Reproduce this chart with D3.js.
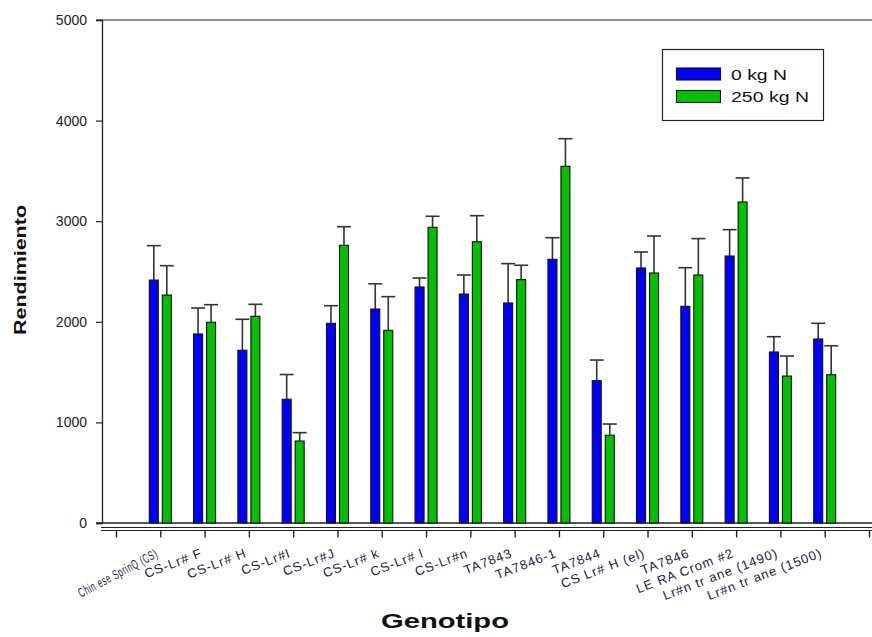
<!DOCTYPE html>
<html>
<head>
<meta charset="utf-8">
<script src="https://cdn.jsdelivr.net/npm/d3@7"></script>
<style>
  body { margin: 0; background: #fff; }
  svg { display: block; font-family: "Liberation Sans", Arial, sans-serif; }
</style>
</head>
<body>
<div id="chart"></div>
<script>
// Genotypes along the x axis
var genotypes = ["Chin ese SprinQ (CS)", "CS-Lr# F", "CS-Lr# H", "CS-Lr#I", "CS-Lr#J", "CS-Lr# k",
    "CS-Lr# l", "CS-Lr#n", "TA7843", "TA7846-1", "TA7844", "CS Lr# H (el)", "TA7846",
    "LE RA Crom #2", "Lr#n tr ane (1490)", "Lr#n tr ane (1500)"];

// Series: mean yield and error (upper bar only)
var series = ["0 kg N", "250 kg N"];
var yield0 = [2415, 1879, 1717, 1230, 1985, 2127, 2346, 2276, 2187, 2621, 1415, 2535, 2154, 2654, 1700, 1829];
var err0 = [342, 258, 308, 246, 175, 251, 89, 189, 391, 215, 205, 159, 384, 262, 152, 156];
var yield250 = [2266, 1995, 2055, 815, 2760, 1915, 2939, 2796, 2419, 3546, 872, 2485, 2465, 3191, 1461, 1474];
var err250 = [292, 175, 119, 83, 185, 335, 110, 259, 143, 274, 112, 368, 362, 239, 199, 288];

var yTicks = [0, 1000, 2000, 3000, 4000, 5000];
var colors = ["#0000ff", "#00c000"];

var width = 872, height = 637;
var svg = d3.select("#chart").append("svg")
    .attr("width", width)
    .attr("height", height);

// Scales: one slot per genotype plus an empty slot on each side
var xScale = d3.scaleLinear().domain([-1, genotypes.length]).range([116, 869]);
var yScale = d3.scaleLinear().domain([0, 5000]).range([523, 20]);

// top frame line
svg.append("line")
    .attr("x1", 96).attr("x2", width)
    .attr("y1", yScale(5000)).attr("y2", yScale(5000))
    .attr("stroke", "#222").attr("stroke-width", 1.2);

// Y axis
var yAxis = d3.axisLeft(yScale).tickValues(yTicks).tickSize(6).tickPadding(9).tickFormat(d3.format("d"));
var yAxisGroup = svg.append("g")
    .attr("transform", "translate(102,0)")
    .call(yAxis);
yAxisGroup.select(".domain").attr("stroke", "#222").attr("stroke-width", 1.3);
yAxisGroup.selectAll(".tick line").attr("stroke", "#222").attr("stroke-width", 1.2);
yAxisGroup.selectAll("text")
    .style("font-size", "14px")
    .style("font-family", "'Liberation Sans', Arial, sans-serif")
    .attr("fill", "#222");

// baseline at 0
svg.append("line")
    .attr("x1", 96).attr("x2", width)
    .attr("y1", yScale(0)).attr("y2", yScale(0))
    .attr("stroke", "#222").attr("stroke-width", 1.6);

// X axis (double line with ticks below)
svg.append("line")
    .attr("x1", 101).attr("x2", width)
    .attr("y1", 527.5).attr("y2", 527.5)
    .attr("stroke", "#222").attr("stroke-width", 1.2);

var xAxis = d3.axisBottom(xScale)
    .tickValues(d3.range(-1, genotypes.length + 1))
    .tickSize(7)
    .tickSizeOuter(0)
    .tickFormat(function(d) { return (d >= 0 && d < genotypes.length) ? genotypes[d] : ""; });
var xAxisGroup = svg.append("g")
    .attr("transform", "translate(0,530.5)")
    .call(xAxis);
xAxisGroup.select(".domain").attr("d", "M101,0H" + width).attr("stroke", "#222").attr("stroke-width", 1.2);
xAxisGroup.selectAll(".tick line").attr("stroke", "#222").attr("stroke-width", 1.4);
xAxisGroup.selectAll("text")
    .style("font-size", "13px")
    .style("font-family", "'Liberation Sans', Arial, sans-serif")
    .style("letter-spacing", "1px")
    .attr("fill", "#222244")
    .style("text-anchor", "end")
    .attr("x", 0)
    .attr("y", 0)
    .attr("dy", 0)
    .attr("transform", "translate(-2,26) rotate(-21)")
    .each(function(d) {
        if (d === 0) {
            d3.select(this).attr("textLength", 88).attr("lengthAdjust", "spacingAndGlyphs")
                .attr("transform", "translate(-2,26) rotate(-28)");
        }
    });

// Bars
var groups = svg.append("g").selectAll("g.group")
    .data(genotypes.map(function(g, i) {
        return {name: g, i: i, values: [
            {s: 0, mean: yield0[i], err: err0[i]},
            {s: 1, mean: yield250[i], err: err250[i]}
        ]};
    }))
    .enter().append("g")
    .attr("class", "group")
    .attr("transform", function(d) { return "translate(" + xScale(d.i) + ",0)"; });

var barWidth = 9;
var barOffset = [-11, 2];

// error bars first (drawn above bar tops)
groups.selectAll("g.err")
    .data(function(d) { return d.values; })
    .enter().append("g")
    .attr("class", "err")
    .each(function(d) {
        var cx = barOffset[d.s] + barWidth / 2;
        var g = d3.select(this);
        g.append("line")
            .attr("x1", cx).attr("x2", cx)
            .attr("y1", yScale(d.mean)).attr("y2", yScale(d.mean + d.err))
            .attr("stroke", "#333").attr("stroke-width", 1.6);
        g.append("line")
            .attr("x1", cx - 7).attr("x2", cx + 7)
            .attr("y1", yScale(d.mean + d.err)).attr("y2", yScale(d.mean + d.err))
            .attr("stroke", "#333").attr("stroke-width", 1.6);
    });

groups.selectAll("rect")
    .data(function(d) { return d.values; })
    .enter().append("rect")
    .attr("x", function(d) { return barOffset[d.s]; })
    .attr("y", function(d) { return yScale(d.mean); })
    .attr("width", barWidth)
    .attr("height", function(d) { return yScale(0) - yScale(d.mean); })
    .attr("fill", function(d) { return colors[d.s]; })
    .attr("stroke", "#111")
    .attr("stroke-width", 1.1);

// Legend
var legend = svg.append("g");
legend.append("rect")
    .attr("x", 662.5).attr("y", 49.5)
    .attr("width", 161).attr("height", 71)
    .attr("fill", "#fff").attr("stroke", "#222").attr("stroke-width", 1.2);

var legendItems = legend.selectAll("g.item")
    .data(series)
    .enter().append("g")
    .attr("class", "item")
    .attr("transform", function(d, i) { return "translate(0," + (i * 22.5) + ")"; });
legendItems.append("rect")
    .attr("x", 676.5).attr("y", 68)
    .attr("width", 44).attr("height", 12)
    .attr("fill", function(d, i) { return colors[i]; })
    .attr("stroke", "#111").attr("stroke-width", 1.1);
legendItems.append("text")
    .attr("x", 731).attr("y", 79.5)
    .attr("textLength", function(d, i) { return i === 0 ? 56 : 78; })
    .attr("lengthAdjust", "spacingAndGlyphs")
    .style("font-size", "15px")
    .attr("fill", "#111")
    .text(function(d) { return d; });

// Axis titles
svg.append("text")
    .attr("transform", "translate(26,270) rotate(-90)")
    .style("text-anchor", "middle")
    .style("font-size", "16px")
    .style("font-weight", "bold")
    .attr("textLength", 130)
    .attr("lengthAdjust", "spacingAndGlyphs")
    .attr("fill", "#111")
    .text("Rendimiento");

svg.append("text")
    .attr("x", 445).attr("y", 628)
    .style("text-anchor", "middle")
    .style("font-size", "20px")
    .style("font-weight", "bold")
    .attr("textLength", 128)
    .attr("lengthAdjust", "spacingAndGlyphs")
    .attr("fill", "#111")
    .text("Genotipo");
</script>
</body>
</html>
